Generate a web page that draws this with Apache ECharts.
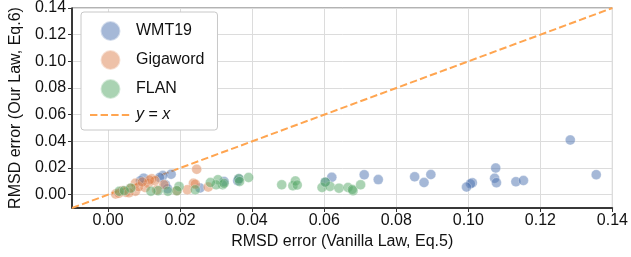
<!DOCTYPE html>
<html>
<head>
<meta charset="utf-8">
<script src="https://cdn.jsdelivr.net/npm/echarts@6/dist/echarts.min.js"></script>
<style>
  html, body { margin: 0; padding: 0; background: #fff; }
  #chart { width: 631px; height: 257px; }
</style>
</head>
<body>
<div id="chart"></div>
<script>
// points: [RMSD vanilla law, RMSD our law]
const wmt19 = [
  [0.1283, 0.0410], [0.1355, 0.0150], [0.1076, 0.0200], [0.1073, 0.0123], [0.1078, 0.0090],
  [0.1011, 0.0090], [0.1006, 0.0082], [0.0995, 0.0057], [0.1132, 0.0097], [0.1153, 0.0106],
  [0.0896, 0.0151], [0.0877, 0.0091], [0.0851, 0.0134], [0.0621, 0.0130], [0.0711, 0.0149],
  [0.0750, 0.0113], [0.0603, 0.0094], [0.0363, 0.0119], [0.0322, 0.0099], [0.0255, 0.0050],
  [0.0159, 0.0074], [0.0175, 0.0153], [0.0152, 0.0143], [0.0143, 0.0129], [0.0099, 0.0124],
  [0.0090, 0.0104], [0.0165, 0.0045], [0.0360, 0.0105]
];
const gigaword = [
  [0.0246, 0.0190], [0.0237, 0.0086], [0.0278, 0.0057], [0.0242, 0.0079], [0.0220, 0.0037],
  [0.0191, 0.0030], [0.0121, 0.0119], [0.0112, 0.0086], [0.0103, 0.0054], [0.0076, 0.0086],
  [0.0076, 0.0025], [0.0063, 0.0049], [0.0049, 0.0019], [0.0021, 0.0005], [0.0130, 0.0105],
  [0.0135, 0.0035], [0.0085, 0.0060], [0.0040, 0.0030], [0.0115, 0.0110], [0.0095, 0.0095],
  [0.0058, 0.0015], [0.0155, 0.0075], [0.0030, 0.0010]
];
const flan = [
  [0.0482, 0.0074], [0.0513, 0.0067], [0.0520, 0.0103], [0.0390, 0.0129], [0.0363, 0.0119],
  [0.0365, 0.0099], [0.0318, 0.0074], [0.0305, 0.0112], [0.0300, 0.0074], [0.0284, 0.0091],
  [0.0242, 0.0037], [0.0197, 0.0062], [0.0191, 0.0030], [0.0166, 0.0025], [0.0139, 0.0030],
  [0.0119, 0.0025], [0.0063, 0.0049], [0.0031, 0.0025], [0.0045, 0.0030], [0.0594, 0.0054],
  [0.0616, 0.0062], [0.0641, 0.0049], [0.0666, 0.0054], [0.0680, 0.0030], [0.0678, 0.0039],
  [0.0701, 0.0074], [0.0603, 0.0094], [0.0322, 0.0085], [0.0525, 0.0072]
];
const identityLine = [[-0.01, -0.01], [0.14, 0.14]];
const tickValues = [0, 0.02, 0.04, 0.06, 0.08, 0.10, 0.12, 0.14];

const font = "Liberation Sans, Arial, sans-serif";

function axisOpt(name, isY) {
  return {
    type: "value",
    min: -0.01,
    max: 0.14,
    name: name,
    nameLocation: "middle",
    nameGap: isY ? 47 : 25,
    nameTextStyle: { fontSize: 16, color: "#111", fontFamily: font },
    axisLine: { show: true, onZero: false, lineStyle: { color: "#111", width: 1.5 } },
    axisTick: { show: true, length: 4, customValues: tickValues, lineStyle: { color: "#333" } },
    axisLabel: {
      customValues: tickValues,
      fontSize: 16,
      color: "#111",
      fontFamily: font,
      margin: isY ? 6 : 5,
      formatter: function (v) { return v.toFixed(2); }
    },
    splitLine: { show: true, lineStyle: { color: "#dcdcdc", width: 1 } }
  };
}

let doc = document.getElementById("chart");
let myChart = echarts.init(doc);

let dotStyle = function (c) {
  return { color: c, opacity: 0.5, borderColor: "#fff", borderWidth: 0.6 };
};

let opt = {
  animation: false,
  grid: {
    left: 69, right: 4, top: 3, bottom: 49,
    show: true, borderColor: "#666", borderWidth: 1, backgroundColor: "#fff"
  },
  xAxis: axisOpt("RMSD error (Vanilla Law, Eq.5)", false),
  yAxis: axisOpt("RMSD error (Our Law, Eq.6)", true),
  legend: {
    left: 81,
    top: 12,
    orient: "vertical",
    padding: [8, 13, 7, 8],
    itemWidth: 41,
    itemHeight: 20,
    itemGap: 7,
    itemTextGap: 11,
    backgroundColor: "#fff",
    borderColor: "#c8c8c8",
    borderWidth: 1,
    borderRadius: 3,
    textStyle: {
      fontSize: 16,
      color: "#111",
      fontFamily: font,
      rich: { i: { fontSize: 16, fontStyle: "italic", fontFamily: font, color: "#111" } }
    },
    formatter: function (name) {
      return name === "y = x" ? "{i|y} = {i|x}" : name;
    },
    data: [
      { name: "WMT19", icon: "circle" },
      { name: "Gigaword", icon: "circle" },
      { name: "FLAN", icon: "circle" },
      { name: "y = x", itemStyle: { opacity: 0 } }
    ]
  },
  series: [
    {
      name: "y = x",
      type: "line",
      data: identityLine,
      symbol: "none",
      z: 1,
      lineStyle: { color: "#ffa550", width: 2, type: [7.4, 3.2] },
      itemStyle: { color: "#ffa550" }
    },
    {
      name: "WMT19", type: "scatter", data: wmt19, symbolSize: 10, z: 3,
      itemStyle: dotStyle("#4c72b0")
    },
    {
      name: "Gigaword", type: "scatter", data: gigaword, symbolSize: 10, z: 3,
      itemStyle: dotStyle("#dd8452")
    },
    {
      name: "FLAN", type: "scatter", data: flan, symbolSize: 10, z: 3,
      itemStyle: dotStyle("#55a868")
    }
  ]
};
myChart.setOption(opt);
</script>
</body>
</html>
